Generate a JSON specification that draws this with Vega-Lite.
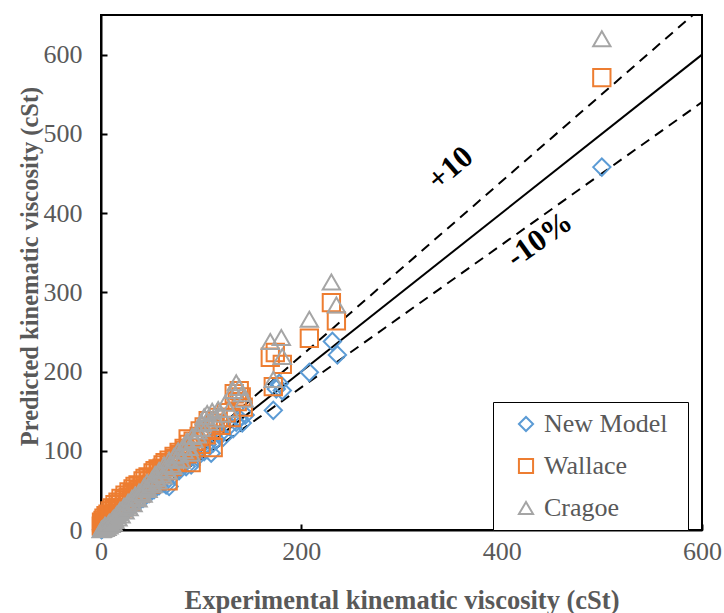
{
  "$schema": "https://vega.github.io/schema/vega-lite/v6.json",
  "width": 601,
  "height": 515,
  "autosize": {"type": "none"},
  "padding": {"left": 101, "top": 15, "right": 22, "bottom": 83},
  "background": "white",
  "config": {
    "view": {"stroke": "black", "strokeWidth": 2},
    "axis": {
      "labelFont": "Liberation Serif",
      "labelFontSize": 26,
      "labelColor": "#595959",
      "labelFlush": false,
      "titleFont": "Liberation Serif",
      "titleFontSize": 26,
      "titleFontWeight": "bold",
      "titleColor": "#595959",
      "titleBaseline": "middle",
      "domainColor": "black",
      "domainWidth": 2,
      "tickColor": "black",
      "tickWidth": 2,
      "tickSize": -6,
      "grid": false
    },
    "legend": {"labelFont": "Liberation Serif", "labelFontSize": 26, "labelColor": "#595959"}
  },
  "datasets": {
    "pts": [
      {"e":0.5,"p":0.4,"m":"New Model"},{"e":1,"p":1,"m":"New Model"},{"e":1.5,"p":1.8,"m":"New Model"},{"e":2,"p":2.2,"m":"New Model"},{"e":3,"p":2.8,"m":"New Model"},{"e":4,"p":4.1,"m":"New Model"},{"e":5,"p":4.7,"m":"New Model"},{"e":6,"p":6.2,"m":"New Model"},{"e":7,"p":6.8,"m":"New Model"},{"e":8,"p":8.3,"m":"New Model"},{"e":9,"p":8.6,"m":"New Model"},{"e":10,"p":10.4,"m":"New Model"},{"e":11,"p":10.5,"m":"New Model"},{"e":12,"p":12.6,"m":"New Model"},{"e":14,"p":13.5,"m":"New Model"},{"e":15,"p":15.3,"m":"New Model"},{"e":17,"p":16.4,"m":"New Model"},{"e":18,"p":18.6,"m":"New Model"},{"e":20,"p":19.2,"m":"New Model"},{"e":22,"p":22.5,"m":"New Model"},{"e":24,"p":23,"m":"New Model"},{"e":26,"p":26.5,"m":"New Model"},{"e":28,"p":27,"m":"New Model"},{"e":30,"p":30.8,"m":"New Model"},{"e":32,"p":31,"m":"New Model"},{"e":35,"p":35.5,"m":"New Model"},{"e":38,"p":36.5,"m":"New Model"},{"e":40,"p":41,"m":"New Model"},{"e":42,"p":40,"m":"New Model"},{"e":45,"p":45.5,"m":"New Model"},{"e":48,"p":46,"m":"New Model"},{"e":50,"p":51,"m":"New Model"},{"e":53,"p":51,"m":"New Model"},{"e":55,"p":56,"m":"New Model"},{"e":58,"p":56,"m":"New Model"},{"e":60,"p":61,"m":"New Model"},{"e":63,"p":59,"m":"New Model"},{"e":65,"p":57,"m":"New Model"},{"e":68,"p":55,"m":"New Model"},{"e":70,"p":71,"m":"New Model"},{"e":73,"p":70,"m":"New Model"},{"e":76,"p":77,"m":"New Model"},{"e":78,"p":75,"m":"New Model"},{"e":82,"p":83,"m":"New Model"},{"e":85,"p":80,"m":"New Model"},{"e":88,"p":90,"m":"New Model"},{"e":90,"p":82,"m":"New Model"},{"e":93,"p":95,"m":"New Model"},{"e":96,"p":92,"m":"New Model"},{"e":100,"p":102,"m":"New Model"},{"e":103,"p":99,"m":"New Model"},{"e":106,"p":108,"m":"New Model"},{"e":110,"p":97,"m":"New Model"},{"e":112,"p":110,"m":"New Model"},{"e":115,"p":114,"m":"New Model"},{"e":118,"p":120,"m":"New Model"},{"e":122,"p":117,"m":"New Model"},{"e":128,"p":131,"m":"New Model"},{"e":132,"p":128,"m":"New Model"},{"e":135,"p":136,"m":"New Model"},{"e":138,"p":141,"m":"New Model"},{"e":141,"p":135,"m":"New Model"},{"e":144,"p":145,"m":"New Model"},{"e":172,"p":151,"m":"New Model"},{"e":175,"p":178,"m":"New Model"},{"e":178,"p":185,"m":"New Model"},{"e":181,"p":176,"m":"New Model"},{"e":208,"p":199,"m":"New Model"},{"e":231,"p":238,"m":"New Model"},{"e":236,"p":221,"m":"New Model"},{"e":500,"p":458,"m":"New Model"},
      {"e":0.3,"p":5,"m":"Wallace"},{"e":0.5,"p":10,"m":"Wallace"},{"e":1,"p":3,"m":"Wallace"},{"e":1.5,"p":8,"m":"Wallace"},{"e":2,"p":12,"m":"Wallace"},{"e":2.5,"p":6,"m":"Wallace"},{"e":3,"p":15,"m":"Wallace"},{"e":3,"p":6,"m":"Wallace"},{"e":4,"p":9,"m":"Wallace"},{"e":5,"p":18,"m":"Wallace"},{"e":6,"p":11,"m":"Wallace"},{"e":6,"p":16,"m":"Wallace"},{"e":7,"p":20,"m":"Wallace"},{"e":8,"p":13,"m":"Wallace"},{"e":9,"p":24,"m":"Wallace"},{"e":9,"p":14,"m":"Wallace"},{"e":10,"p":15,"m":"Wallace"},{"e":11,"p":28,"m":"Wallace"},{"e":12,"p":18,"m":"Wallace"},{"e":13,"p":26,"m":"Wallace"},{"e":14,"p":32,"m":"Wallace"},{"e":15,"p":21,"m":"Wallace"},{"e":16,"p":28,"m":"Wallace"},{"e":17,"p":35,"m":"Wallace"},{"e":18,"p":24,"m":"Wallace"},{"e":19,"p":33,"m":"Wallace"},{"e":20,"p":40,"m":"Wallace"},{"e":22,"p":28,"m":"Wallace"},{"e":23,"p":38,"m":"Wallace"},{"e":24,"p":44,"m":"Wallace"},{"e":26,"p":32,"m":"Wallace"},{"e":27,"p":41,"m":"Wallace"},{"e":28,"p":48,"m":"Wallace"},{"e":30,"p":36,"m":"Wallace"},{"e":31,"p":46,"m":"Wallace"},{"e":32,"p":52,"m":"Wallace"},{"e":34,"p":55,"m":"Wallace"},{"e":35,"p":42,"m":"Wallace"},{"e":37,"p":57,"m":"Wallace"},{"e":38,"p":50,"m":"Wallace"},{"e":40,"p":47,"m":"Wallace"},{"e":41,"p":56,"m":"Wallace"},{"e":42,"p":62,"m":"Wallace"},{"e":44,"p":65,"m":"Wallace"},{"e":45,"p":53,"m":"Wallace"},{"e":47,"p":67,"m":"Wallace"},{"e":48,"p":62,"m":"Wallace"},{"e":50,"p":58,"m":"Wallace"},{"e":51,"p":66,"m":"Wallace"},{"e":52,"p":72,"m":"Wallace"},{"e":54,"p":75,"m":"Wallace"},{"e":55,"p":64,"m":"Wallace"},{"e":57,"p":77,"m":"Wallace"},{"e":58,"p":73,"m":"Wallace"},{"e":60,"p":70,"m":"Wallace"},{"e":61,"p":78,"m":"Wallace"},{"e":62,"p":82,"m":"Wallace"},{"e":64,"p":85,"m":"Wallace"},{"e":65,"p":75,"m":"Wallace"},{"e":67,"p":62,"m":"Wallace"},{"e":68,"p":88,"m":"Wallace"},{"e":69,"p":84,"m":"Wallace"},{"e":71,"p":80,"m":"Wallace"},{"e":73,"p":93,"m":"Wallace"},{"e":74,"p":90,"m":"Wallace"},{"e":76,"p":86,"m":"Wallace"},{"e":78,"p":98,"m":"Wallace"},{"e":79,"p":95,"m":"Wallace"},{"e":80,"p":91,"m":"Wallace"},{"e":83,"p":103,"m":"Wallace"},{"e":84,"p":100,"m":"Wallace"},{"e":86,"p":96,"m":"Wallace"},{"e":87,"p":115,"m":"Wallace"},{"e":88,"p":108,"m":"Wallace"},{"e":90,"p":85,"m":"Wallace"},{"e":92,"p":112,"m":"Wallace"},{"e":94,"p":108,"m":"Wallace"},{"e":95,"p":104,"m":"Wallace"},{"e":98,"p":118,"m":"Wallace"},{"e":99,"p":125,"m":"Wallace"},{"e":100,"p":108,"m":"Wallace"},{"e":103,"p":130,"m":"Wallace"},{"e":105,"p":120,"m":"Wallace"},{"e":107,"p":138,"m":"Wallace"},{"e":110,"p":127,"m":"Wallace"},{"e":112,"p":104,"m":"Wallace"},{"e":114,"p":135,"m":"Wallace"},{"e":117,"p":142,"m":"Wallace"},{"e":120,"p":132,"m":"Wallace"},{"e":125,"p":148,"m":"Wallace"},{"e":130,"p":142,"m":"Wallace"},{"e":133,"p":172,"m":"Wallace"},{"e":136,"p":162,"m":"Wallace"},{"e":138,"p":176,"m":"Wallace"},{"e":140,"p":168,"m":"Wallace"},{"e":142,"p":155,"m":"Wallace"},{"e":169,"p":218,"m":"Wallace"},{"e":174,"p":224,"m":"Wallace"},{"e":181,"p":209,"m":"Wallace"},{"e":172,"p":181,"m":"Wallace"},{"e":208,"p":242,"m":"Wallace"},{"e":230,"p":287,"m":"Wallace"},{"e":235,"p":264,"m":"Wallace"},{"e":500,"p":571,"m":"Wallace"},
      {"e":0.3,"p":0.2,"m":"Cragoe"},{"e":0.5,"p":1,"m":"Cragoe"},{"e":1,"p":0.5,"m":"Cragoe"},{"e":1.5,"p":2,"m":"Cragoe"},{"e":2,"p":1.2,"m":"Cragoe"},{"e":3,"p":3,"m":"Cragoe"},{"e":4,"p":2,"m":"Cragoe"},{"e":4,"p":6,"m":"Cragoe"},{"e":5,"p":5,"m":"Cragoe"},{"e":6,"p":3,"m":"Cragoe"},{"e":7,"p":7,"m":"Cragoe"},{"e":8,"p":5,"m":"Cragoe"},{"e":8,"p":9,"m":"Cragoe"},{"e":9,"p":10,"m":"Cragoe"},{"e":10,"p":7,"m":"Cragoe"},{"e":11,"p":12,"m":"Cragoe"},{"e":12,"p":9,"m":"Cragoe"},{"e":12,"p":14,"m":"Cragoe"},{"e":13,"p":15,"m":"Cragoe"},{"e":14,"p":12,"m":"Cragoe"},{"e":15,"p":18,"m":"Cragoe"},{"e":16,"p":20,"m":"Cragoe"},{"e":17,"p":15,"m":"Cragoe"},{"e":18,"p":22,"m":"Cragoe"},{"e":19,"p":25,"m":"Cragoe"},{"e":20,"p":19,"m":"Cragoe"},{"e":22,"p":27,"m":"Cragoe"},{"e":23,"p":30,"m":"Cragoe"},{"e":24,"p":24,"m":"Cragoe"},{"e":26,"p":31,"m":"Cragoe"},{"e":27,"p":35,"m":"Cragoe"},{"e":28,"p":28,"m":"Cragoe"},{"e":30,"p":36,"m":"Cragoe"},{"e":31,"p":40,"m":"Cragoe"},{"e":32,"p":33,"m":"Cragoe"},{"e":34,"p":44,"m":"Cragoe"},{"e":35,"p":41,"m":"Cragoe"},{"e":37,"p":39,"m":"Cragoe"},{"e":38,"p":48,"m":"Cragoe"},{"e":40,"p":47,"m":"Cragoe"},{"e":42,"p":45,"m":"Cragoe"},{"e":43,"p":55,"m":"Cragoe"},{"e":45,"p":53,"m":"Cragoe"},{"e":46,"p":60,"m":"Cragoe"},{"e":47,"p":51,"m":"Cragoe"},{"e":50,"p":59,"m":"Cragoe"},{"e":51,"p":64,"m":"Cragoe"},{"e":52,"p":57,"m":"Cragoe"},{"e":54,"p":70,"m":"Cragoe"},{"e":55,"p":65,"m":"Cragoe"},{"e":57,"p":62,"m":"Cragoe"},{"e":58,"p":75,"m":"Cragoe"},{"e":60,"p":71,"m":"Cragoe"},{"e":62,"p":68,"m":"Cragoe"},{"e":63,"p":82,"m":"Cragoe"},{"e":65,"p":77,"m":"Cragoe"},{"e":67,"p":74,"m":"Cragoe"},{"e":68,"p":88,"m":"Cragoe"},{"e":70,"p":83,"m":"Cragoe"},{"e":72,"p":80,"m":"Cragoe"},{"e":73,"p":93,"m":"Cragoe"},{"e":75,"p":90,"m":"Cragoe"},{"e":77,"p":100,"m":"Cragoe"},{"e":78,"p":95,"m":"Cragoe"},{"e":80,"p":88,"m":"Cragoe"},{"e":82,"p":105,"m":"Cragoe"},{"e":83,"p":100,"m":"Cragoe"},{"e":85,"p":110,"m":"Cragoe"},{"e":86,"p":112,"m":"Cragoe"},{"e":88,"p":104,"m":"Cragoe"},{"e":90,"p":97,"m":"Cragoe"},{"e":91,"p":118,"m":"Cragoe"},{"e":93,"p":114,"m":"Cragoe"},{"e":96,"p":120,"m":"Cragoe"},{"e":97,"p":125,"m":"Cragoe"},{"e":100,"p":128,"m":"Cragoe"},{"e":101,"p":134,"m":"Cragoe"},{"e":103,"p":143,"m":"Cragoe"},{"e":106,"p":147,"m":"Cragoe"},{"e":108,"p":136,"m":"Cragoe"},{"e":111,"p":150,"m":"Cragoe"},{"e":114,"p":140,"m":"Cragoe"},{"e":117,"p":152,"m":"Cragoe"},{"e":120,"p":146,"m":"Cragoe"},{"e":124,"p":160,"m":"Cragoe"},{"e":128,"p":152,"m":"Cragoe"},{"e":132,"p":176,"m":"Cragoe"},{"e":135,"p":186,"m":"Cragoe"},{"e":138,"p":180,"m":"Cragoe"},{"e":141,"p":172,"m":"Cragoe"},{"e":143,"p":165,"m":"Cragoe"},{"e":169,"p":238,"m":"Cragoe"},{"e":180,"p":243,"m":"Cragoe"},{"e":181,"p":219,"m":"Cragoe"},{"e":172,"p":190,"m":"Cragoe"},{"e":208,"p":266,"m":"Cragoe"},{"e":230,"p":313,"m":"Cragoe"},{"e":235,"p":284,"m":"Cragoe"},{"e":500,"p":620,"m":"Cragoe"}
    ]
  },
  "layer": [
    {
      "data": {"values": [{"e": 0, "p": 0}, {"e": 600, "p": 600}]},
      "mark": {"type": "line", "color": "black", "strokeWidth": 2},
      "encoding": {
        "x": {"field": "e", "type": "quantitative", "scale": {"domain": [0, 600], "nice": false},
              "axis": {"title": "Experimental kinematic viscosity (cSt)", "values": [0, 200, 400, 600], "labelPadding": 14, "titleY": 70, "titleFontSize": 26.5}},
        "y": {"field": "p", "type": "quantitative", "scale": {"domain": [0, 650], "nice": false},
              "axis": {"title": "Predicted kinematic viscosity (cSt)", "values": [0, 100, 200, 300, 400, 500, 600], "labelPadding": 25, "titleX": -71, "titleY": 251, "titleFontSize": 24.5}}
      }
    },
    {
      "data": {"values": [{"g": "plus", "e": 0, "p": 0}, {"g": "plus", "e": 590.9, "p": 650}, {"g": "minus", "e": 0, "p": 0}, {"g": "minus", "e": 600, "p": 540}]},
      "mark": {"type": "line", "color": "black", "strokeWidth": 2, "strokeDash": [10, 7]},
      "encoding": {"x": {"field": "e", "type": "quantitative"}, "y": {"field": "p", "type": "quantitative"}, "detail": {"field": "g"}}
    },
    {
      "data": {"name": "pts"},
      "mark": {"type": "point", "filled": false, "strokeWidth": 2, "size": 300, "opacity": 1},
      "encoding": {
        "x": {"field": "e", "type": "quantitative"},
        "y": {"field": "p", "type": "quantitative"},
        "color": {"field": "m", "type": "nominal",
                  "scale": {"domain": ["New Model", "Wallace", "Cragoe"], "range": ["#5B9BD5", "#ED7D31", "#A5A5A5"]},
                  "legend": {"title": "\u00a0", "orient": "none", "legendX": 392, "legendY": 387,
                             "strokeColor": "black", "fillColor": "white", "padding": 9, "rowPadding": 16,
                             "symbolOffset": 11, "labelOffset": 5, "symbolSize": 200, "symbolStrokeWidth": 2,
                             "labelFont": "Liberation Serif", "labelFontSize": 26, "labelColor": "#595959",
                             "titleOrient": "right", "titlePadding": 12, "titleFontSize": 26, "titleFont": "Liberation Serif",
                             "encode": {
                               "legend": {"update": {"strokeWidth": {"value": 2}}},
                               "labels": {"update": {"font": {"value": "Liberation Serif"}, "fontSize": {"value": 26}, "fill": {"value": "#595959"}}}
                             }}},
        "shape": {"field": "m", "type": "nominal",
                  "scale": {"domain": ["New Model", "Wallace", "Cragoe"], "range": ["diamond", "square", "triangle-up"]}}
      }
    },
    {
      "data": {"values": [{"e": 349, "p": 456, "t": "+10"}]},
      "mark": {"type": "text", "font": "Liberation Serif", "fontWeight": "bold", "fontSize": 31, "angle": 319, "color": "black", "align": "center", "baseline": "middle"},
      "encoding": {"x": {"field": "e", "type": "quantitative"}, "y": {"field": "p", "type": "quantitative"}, "text": {"field": "t"}}
    },
    {
      "data": {"values": [{"e": 438, "p": 366, "t": "-10%"}]},
      "mark": {"type": "text", "font": "Liberation Serif", "fontWeight": "bold", "fontSize": 31, "angle": 324.5, "color": "black", "align": "center", "baseline": "middle"},
      "encoding": {"x": {"field": "e", "type": "quantitative"}, "y": {"field": "p", "type": "quantitative"}, "text": {"field": "t"}}
    }
  ]
}
